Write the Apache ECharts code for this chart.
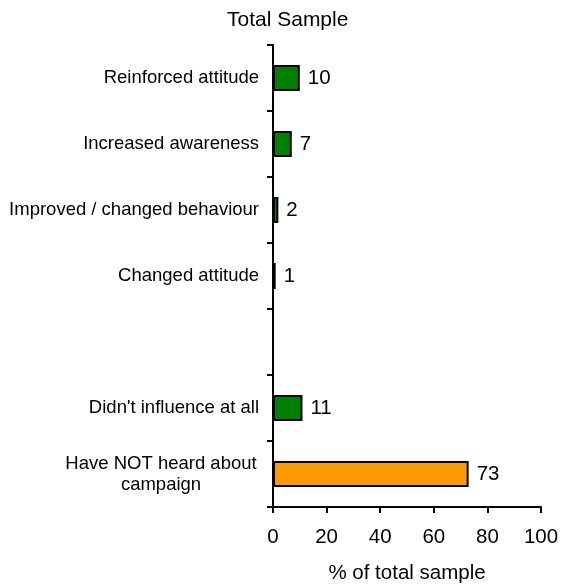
<!DOCTYPE html>
<html>
<head>
<meta charset="utf-8">
<script src="https://cdn.jsdelivr.net/npm/echarts@6/dist/echarts.min.js"></script>
<style>
  html, body { margin: 0; padding: 0; background: #fff; }
  #main { width: 561px; height: 585px; }
</style>
</head>
<body>
<div id="main"></div>
<script>
// categories top to bottom, one empty slot between the two groups
const categories = [
  "Reinforced attitude",
  "Increased awareness",
  "Improved / changed behaviour",
  "Changed attitude",
  "",
  "Didn't influence at all",
  "Have NOT heard about\ncampaign",
];
const values = [10, 7, 2, 1, "-", 11, 73];
const xTicks = [0, 20, 40, 60, 80, 100];

const chart = echarts.init(document.getElementById("main"));
const font = "Liberation Sans, Arial, sans-serif";
const lastIdx = categories.length - 1;

chart.setOption({
  animation: false,
  title: {
    text: "Total Sample",
    left: 222,
    top: 5,
    textStyle: { fontFamily: font, fontSize: 21, fontWeight: "normal", color: "#000" },
  },
  grid: { left: 273, right: 20, top: 45, bottom: 78, outerBoundsMode: "none" },
  xAxis: {
    type: "value",
    min: xTicks[0],
    max: xTicks[xTicks.length - 1],
    interval: 20,
    name: "% of total sample",
    nameLocation: "middle",
    nameGap: 56,
    nameTextStyle: { fontFamily: font, fontSize: 20.5, color: "#000" },
    axisLine: { show: true, lineStyle: { color: "#000", width: 2 } },
    axisTick: { show: true, length: 6, lineStyle: { color: "#000", width: 2 } },
    axisLabel: { margin: 20, fontFamily: font, fontSize: 20.5, color: "#000" },
    splitLine: { show: false },
  },
  yAxis: {
    type: "category",
    inverse: true,
    data: categories,
    axisLine: { show: true, lineStyle: { color: "#000", width: 2 } },
    axisTick: { show: true, length: 6, lineStyle: { color: "#000", width: 2 } },
    axisLabel: {
      margin: 14,
      fontFamily: font,
      fontSize: 18.5,
      color: "#000",
      formatter: function (v) {
        // two-line label is centred on itself
        if (v.indexOf("\n") >= 0) {
          return v.split("\n").map((s) => "{c|" + s + "}").join("\n");
        }
        return v;
      },
      rich: {
        c: { width: 196, align: "center", fontFamily: font, fontSize: 18.5, lineHeight: 21, color: "#000" },
      },
    },
  },
  series: [
    {
      type: "bar",
      data: values,
      barWidth: 26,
      itemStyle: {
        color: function (p) {
          return p.dataIndex === lastIdx ? "#ff9900" : "#008000";
        },
        borderColor: "#000",
        borderWidth: 2,
      },
      label: {
        show: true,
        position: "right",
        distance: 8,
        fontFamily: font,
        fontSize: 20.5,
        color: "#000",
      },
    },
  ],
});
</script>
</body>
</html>
